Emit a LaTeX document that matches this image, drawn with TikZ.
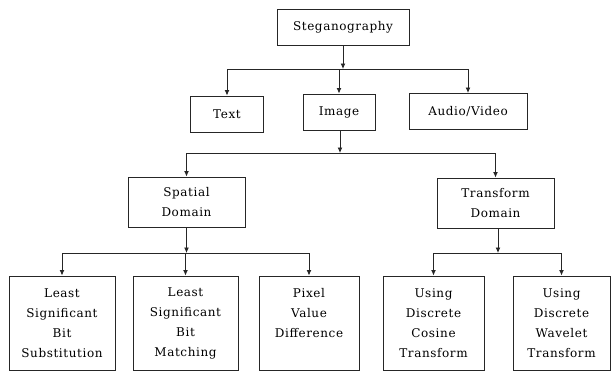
\documentclass[tikz,border=0pt]{standalone}
\usepackage{fontspec}
\setmainfont{DejaVu Serif}[LetterSpace=5]
\usetikzlibrary{arrows.meta,positioning,calc}

\begin{document}
\begin{tikzpicture}[
    x=1pt, y=-1pt,
    >={Latex[length=5.5pt,width=5pt]},
    font=\fontsize{12}{20}\selectfont,
    frame/.style={draw=black!85,line width=1pt,align=center,inner sep=2pt,minimum height=36pt},
    domainbox/.style={frame,minimum width=117pt,minimum height=50pt},
    leaf/.style={frame,minimum height=94pt},
    link/.style={draw=black!85,line width=0.9pt},
]

\useasboundingbox (0,0) rectangle (611,372);

% ---------- Level 1 ----------
\node[frame,minimum width=132pt] (steg) at (343,27) {Steganography};

% ---------- Level 2 ----------
\node[frame,minimum width=73pt]  (text)  at (227,114)   {Text};
\node[frame,minimum width=72pt]  (image) at (339,112)   {Image};
\node[frame,minimum width=118pt] (av)    at (468,111.5) {Audio/Video};

% ---------- Level 3 ----------
\node[domainbox] (spatial)   at (186.5,202) {Spatial\\Domain};
\node[domainbox] (transform) at (495.5,203) {Transform\\Domain};

% ---------- Level 4: leaves (text hangs from the top) ----------
\foreach \name/\x/\w/\txt in {
    lsbs/62/106/{Least\\Significant\\Bit\\Substitution},
    lsbm/185.5/105/{Least\\Significant\\Bit\\Matching},
    pvd/309/100/{Pixel\\Value\\Difference\\\mbox{}},
    dct/433.5/101/{Using\\Discrete\\Cosine\\Transform},
    dwt/561.5/97/{Using\\Discrete\\Wavelet\\Transform}}{
  \node[leaf,minimum width=\w pt] (\name) at (\x,323) {\txt};
}

% ---------- junctions ----------
\coordinate (j1) at (steg.south |- 0,69);
\coordinate (j2) at (340,153);
\coordinate (j3) at (spatial.south |- 0,253);
\coordinate (j4) at (498,253);

% ---------- Steganography -> Text / Image / Audio ----------
\draw[link,->] (steg.south) -- (j1);
\draw[link] (text.north |- j1) -- (av.north |- j1);
\foreach \n in {text,image,av}
  \draw[link,->] (\n.north |- j1) -- (\n.north);

% ---------- Image -> domains ----------
\draw[link,->] (image.south -| j2) -- (j2);
\draw[link] (spatial.north |- j2) -- (transform.north |- j2);
\foreach \n in {spatial,transform}
  \draw[link,->] (\n.north |- j2) -- (\n.north);

% ---------- Spatial -> leaves ----------
\draw[link,->] (spatial.south) -- (j3);
\draw[link] (lsbs.north |- j3) -- (pvd.north |- j3);
\foreach \n in {lsbs,lsbm,pvd}
  \draw[link,->] (\n.north |- j3) -- (\n.north);

% ---------- Transform -> leaves ----------
\draw[link,->] (transform.south -| j4) -- (j4);
\draw[link] (dct.north |- j4) -- (dwt.north |- j4);
\foreach \n in {dct,dwt}
  \draw[link,->] (\n.north |- j4) -- (\n.north);

\end{tikzpicture}
\end{document}
